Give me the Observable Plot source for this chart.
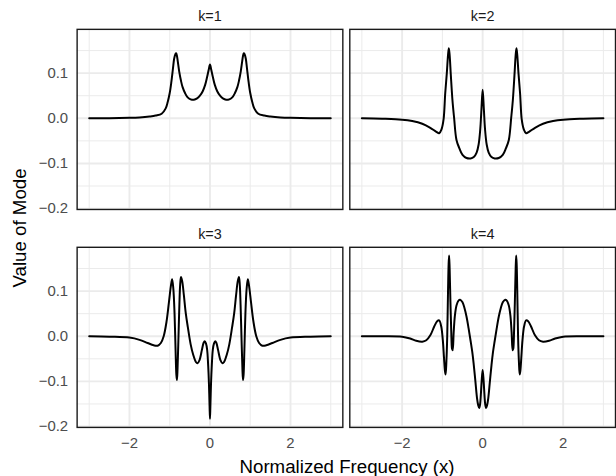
<!DOCTYPE html>
<html>
<head>
<meta charset="utf-8">
<script src="https://cdn.jsdelivr.net/npm/d3@7"></script>
<script src="https://cdn.jsdelivr.net/npm/@observablehq/plot@0.6"></script>
<style>
  html, body { margin: 0; padding: 0; background: #fff; }
  #wrap { position: relative; width: 616px; height: 476px; overflow: hidden; font-family: "Liberation Sans", Arial, sans-serif; }
  #xtitle { position: absolute; left: 0; width: 694px; top: 457.5px; text-align: center; font-size: 18.7px; color: #000; line-height: 18.7px; white-space: nowrap; }
  #ytitle { position: absolute; left: 20.2px; top: 228px; transform: translate(-50%, -50%) rotate(-90deg); white-space: nowrap; font-size: 18.7px; color: #000; line-height: 18.7px; }
</style>
</head>
<body>
<div id="wrap">
  <div id="chart"></div>
  <div id="xtitle">Normalized Frequency (x)</div>
  <div id="ytitle">Value of Mode</div>
</div>
<script>
// Panel labels and layout positions in the 2x2 grid
const panelLabels = ["k=1", "k=2", "k=3", "k=4"];
const panelCol = [0, 1, 0, 1];
const panelRow = [0, 0, 1, 1];

// Axis ticks
const xTicks = [-2, 0, 2];
const xMinor = [-3, -1, 1, 3];
const yTicks = [-0.2, -0.1, 0.0, 0.1];
const yMinor = [-0.15, -0.05, 0.05, 0.15];

// k=1
const x1 = [-3, -2.5, -2, -1.75, -1.5, -1.35, -1.2, -1.1, -1.05, -1.0, -0.96, -0.92, -0.89, -0.86, -0.84, -0.82, -0.8, -0.765, -0.72, -0.68, -0.62, -0.56, -0.48, -0.4, -0.32, -0.25, -0.18, -0.12, -0.07, -0.03, 0,
  0.03, 0.07, 0.12, 0.18, 0.25, 0.32, 0.4, 0.48, 0.56, 0.62, 0.68, 0.72, 0.765, 0.8, 0.82, 0.84, 0.86, 0.89, 0.92, 0.96, 1.0, 1.05, 1.1, 1.2, 1.35, 1.5, 1.75, 2, 2.5, 3];
const y1 = [0, 0.000, 0.001, 0.002, 0.004, 0.006, 0.010, 0.022, 0.036, 0.056, 0.080, 0.110, 0.132, 0.142, 0.144, 0.138, 0.126, 0.104, 0.083, 0.069, 0.056, 0.047, 0.042, 0.041, 0.044, 0.050, 0.060, 0.074, 0.092, 0.108, 0.119,
  0.108, 0.092, 0.074, 0.060, 0.050, 0.044, 0.041, 0.042, 0.047, 0.056, 0.069, 0.083, 0.104, 0.126, 0.138, 0.144, 0.142, 0.132, 0.110, 0.080, 0.056, 0.036, 0.022, 0.010, 0.006, 0.004, 0.002, 0.001, 0.000, 0];

// k=2
const x2 = [-3, -2.5, -2, -1.75, -1.5, -1.3, -1.15, -1.08, -1.02, -0.97, -0.93, -0.89, -0.86, -0.84, -0.82, -0.79, -0.75, -0.71, -0.65, -0.58, -0.5, -0.4, -0.3, -0.22, -0.15, -0.1, -0.06, -0.03, 0,
  0.03, 0.06, 0.1, 0.15, 0.22, 0.3, 0.4, 0.5, 0.58, 0.65, 0.71, 0.75, 0.79, 0.82, 0.84, 0.86, 0.89, 0.93, 0.97, 1.02, 1.08, 1.15, 1.3, 1.5, 1.75, 2, 2.5, 3];
const y2 = [0, -0.001, -0.003, -0.006, -0.012, -0.021, -0.030, -0.033, -0.024, -0.002, 0.055, 0.100, 0.140, 0.155, 0.140, 0.095, 0.040, 0.002, -0.048, -0.066, -0.081, -0.088, -0.089, -0.086, -0.076, -0.058, -0.025, 0.020, 0.063,
  0.020, -0.025, -0.058, -0.076, -0.086, -0.089, -0.088, -0.081, -0.066, -0.048, 0.002, 0.040, 0.095, 0.140, 0.155, 0.140, 0.100, 0.055, -0.002, -0.024, -0.033, -0.030, -0.021, -0.012, -0.006, -0.003, -0.001, 0];

// k=3
const x3 = [-3, -2.5, -2, -1.75, -1.55, -1.4, -1.3, -1.22, -1.15, -1.08, -1.02, -0.97, -0.94, -0.91, -0.88, -0.855, -0.835, -0.82, -0.805, -0.785, -0.76, -0.74, -0.72, -0.69, -0.65, -0.6, -0.55, -0.48, -0.42, -0.35, -0.31, -0.26, -0.2, -0.16, -0.13, -0.1, -0.07, -0.045, -0.025, -0.01, 0,
  0.01, 0.025, 0.045, 0.07, 0.1, 0.13, 0.16, 0.2, 0.26, 0.31, 0.35, 0.42, 0.48, 0.55, 0.6, 0.65, 0.69, 0.72, 0.74, 0.76, 0.785, 0.805, 0.82, 0.835, 0.855, 0.88, 0.91, 0.94, 0.97, 1.02, 1.08, 1.15, 1.22, 1.3, 1.4, 1.55, 1.75, 2, 2.5, 3];
const y3 = [0, -0.001, -0.003, -0.008, -0.015, -0.020, -0.021, -0.015, 0.000, 0.032, 0.075, 0.112, 0.126, 0.105, 0.050, -0.030, -0.085, -0.097, -0.070, -0.010, 0.070, 0.115, 0.131, 0.122, 0.092, 0.050, 0.020, -0.018, -0.040, -0.057, -0.060, -0.053, -0.030, -0.015, -0.011, -0.016, -0.030, -0.065, -0.107, -0.155, -0.183,
  -0.155, -0.107, -0.065, -0.030, -0.016, -0.011, -0.015, -0.030, -0.053, -0.060, -0.057, -0.040, -0.018, 0.020, 0.050, 0.092, 0.122, 0.131, 0.115, 0.070, -0.010, -0.070, -0.097, -0.085, -0.030, 0.050, 0.105, 0.126, 0.112, 0.075, 0.032, 0.000, -0.015, -0.021, -0.020, -0.015, -0.008, -0.003, -0.001, 0];

// k=4
const x4 = [-3, -2.5, -2, -1.8, -1.65, -1.5, -1.4, -1.3, -1.2, -1.13, -1.08, -1.03, -0.99, -0.96, -0.935, -0.92, -0.9, -0.88, -0.86, -0.845, -0.833, -0.82, -0.8, -0.78, -0.76, -0.745, -0.72, -0.69, -0.65, -0.6, -0.56, -0.5, -0.45, -0.4, -0.35, -0.3, -0.25, -0.22, -0.18, -0.14, -0.11, -0.085, -0.065, -0.045, -0.025, 0,
  0.025, 0.045, 0.065, 0.085, 0.11, 0.14, 0.18, 0.22, 0.25, 0.3, 0.35, 0.4, 0.45, 0.5, 0.56, 0.6, 0.65, 0.69, 0.72, 0.745, 0.76, 0.78, 0.8, 0.82, 0.833, 0.845, 0.86, 0.88, 0.9, 0.92, 0.935, 0.96, 0.99, 1.03, 1.08, 1.13, 1.2, 1.3, 1.4, 1.5, 1.65, 1.8, 2, 2.5, 3];
const y4 = [0, 0.000, -0.001, -0.005, -0.010, -0.012, -0.009, 0.002, 0.022, 0.033, 0.035, 0.022, -0.008, -0.048, -0.078, -0.085, -0.055, 0.000, 0.100, 0.160, 0.179, 0.150, 0.075, 0.010, -0.028, -0.031, 0.008, 0.045, 0.068, 0.079, 0.081, 0.075, 0.062, 0.043, 0.018, -0.010, -0.040, -0.064, -0.100, -0.137, -0.153, -0.159, -0.152, -0.130, -0.100, -0.075,
  -0.100, -0.130, -0.152, -0.159, -0.153, -0.137, -0.100, -0.064, -0.040, -0.010, 0.018, 0.043, 0.062, 0.075, 0.081, 0.079, 0.068, 0.045, 0.008, -0.031, -0.028, 0.010, 0.075, 0.150, 0.179, 0.160, 0.100, 0.000, -0.055, -0.085, -0.078, -0.048, -0.008, 0.022, 0.035, 0.033, 0.022, 0.002, -0.009, -0.012, -0.010, -0.005, -0.001, 0.000, 0];

const seriesX = [x1, x2, x3, x4];
const seriesY = [y1, y2, y3, y4];

const rows = [];
seriesX.forEach((xs, i) => xs.forEach((x, j) => rows.push({k: panelLabels[i], c: panelCol[i], r: panelRow[i], x, y: seriesY[i][j]})));
const strips = panelLabels.map((label, i) => ({label, c: panelCol[i], r: panelRow[i]}));

const tickColor = "#4D4D4D";
const chart = Plot.plot({
  width: 619,
  height: 476,
  marginTop: 28,
  marginBottom: 46,
  marginLeft: 76,
  marginRight: 1,
  style: {fontFamily: "'Liberation Sans', Arial, sans-serif", background: "#fff", overflow: "visible"},
  x: {domain: [-3.3, 3.3], label: null},
  y: {domain: [-0.202, 0.197], label: null},
  fx: {domain: [0, 1], paddingInner: 0.0262, paddingOuter: 0, axis: null, label: null},
  fy: {domain: [0, 1], paddingInner: 0.1727, paddingOuter: 0, axis: null, label: null},
  marks: [
    Plot.gridX(xMinor, {stroke: "#EBEBEB", strokeOpacity: 1, strokeWidth: 1}),
    Plot.gridY(yMinor, {stroke: "#EBEBEB", strokeOpacity: 1, strokeWidth: 1}),
    Plot.gridX(xTicks, {stroke: "#EBEBEB", strokeOpacity: 1, strokeWidth: 1.9}),
    Plot.gridY(yTicks, {stroke: "#EBEBEB", strokeOpacity: 1, strokeWidth: 1.9}),
    Plot.line(rows, {x: "x", y: "y", z: "k", fx: "c", fy: "r", stroke: "#000", strokeWidth: 2, curve: "catmull-rom"}),
    Plot.frame({stroke: "#1a1a1a", strokeWidth: 1.4}),
    Plot.axisX(xTicks, {tickSize: 0, tickPadding: 10, fontSize: 15, fill: tickColor, stroke: null, label: null, tickFormat: d3.format("d")}),
    Plot.axisY(yTicks, {tickSize: 0, tickPadding: 9, fontSize: 15, fill: tickColor, stroke: null, label: null, tickFormat: d3.format(".1f")}),
    Plot.text(strips, {fx: "c", fy: "r", text: "label", frameAnchor: "top", lineAnchor: "bottom", dy: -8, fontSize: 14.5, fill: "#1A1A1A"})
  ]
});
document.getElementById("chart").appendChild(chart);
</script>
</body>
</html>
